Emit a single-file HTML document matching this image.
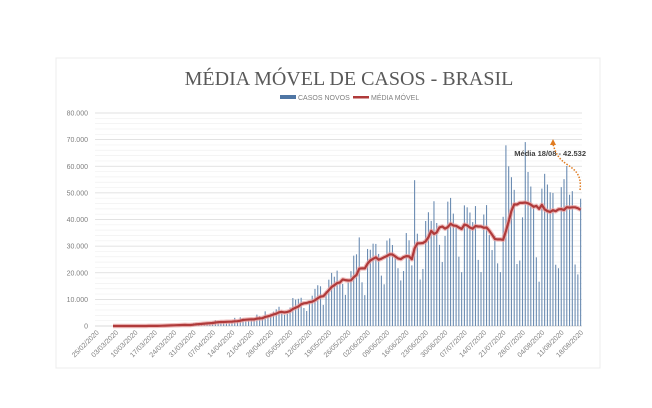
<!DOCTYPE html>
<html><head><meta charset="utf-8"><style>
html,body{margin:0;padding:0;background:#fff;}
svg{display:block;font-family:"Liberation Sans",sans-serif;}
</style></head><body>
<svg id="chart" width="652" height="408" viewBox="0 0 652 408">
<rect x="56" y="58" width="544" height="310" fill="#fff" stroke="#ececec"/>
<text x="349" y="85" text-anchor="middle" font-family="Liberation Serif,serif" font-size="20" fill="#595959">MÉDIA MÓVEL DE CASOS - BRASIL</text>
<g>
<g><rect x="280" y="95" width="16" height="4" fill="#4f76a4"/><text x="298" y="100" font-size="7" fill="#7f7f7f">CASOS NOVOS</text></g>
<g><rect x="353" y="96" width="16" height="2.5" fill="#b03a3a"/><text x="371" y="100" font-size="7" fill="#7f7f7f">MÉDIA MÓVEL</text></g>
</g>
<g id="grid"></g>
<g id="yaxis"></g>
<g id="bars"></g>
<g id="line"></g>
<g id="xaxis"></g>
<g>
<text x="586" y="156" text-anchor="end" font-size="7.5" font-weight="bold" fill="#404040">Média 18/08 - 42.532</text>
<path d="M580,190 C582,175 575,170 568,165 C560,160 556,155 553,144" fill="none" stroke="#e07b20" stroke-width="1.5" stroke-dasharray="1.5,1.5"/>
<path d="M550,145 L553,139 L556,145 Z" fill="#e07b20"/>
</g>
</svg>
<script>
const yTicks=[0,10000,20000,30000,40000,50000,60000,70000,80000];
const yTickLabels=["0","10.000","20.000","30.000","40.000","50.000","60.000","70.000","80.000"];
const xTickLabels=["25/02/2020","03/03/2020","10/03/2020","17/03/2020","24/03/2020","31/03/2020","07/04/2020","14/04/2020","21/04/2020","28/04/2020","05/05/2020","12/05/2020","19/05/2020","26/05/2020","02/06/2020","09/06/2020","16/06/2020","23/06/2020","30/06/2020","07/07/2020","14/07/2020","21/07/2020","28/07/2020","04/08/2020","11/08/2020","18/08/2020"];
const casosNovos=[1,0,0,0,1,0,0,
0,0,1,5,5,6,7,
9,18,25,21,23,79,34,
57,137,193,283,224,418,345,
310,232,482,502,487,352,323,
1138,1119,1074,1146,1222,852,926,
1661,2210,1930,1781,1089,1442,1261,
1832,3058,2105,3257,2917,2055,1927,
2336,2678,4279,3735,3503,5514,3379,
4613,5385,6276,7218,4726,4206,4726,
6935,10503,9888,10222,10611,6760,5632,
9258,11385,13944,15305,14919,7938,13140,
17408,19951,18508,20803,16508,15813,11687,
16324,20599,26417,26928,33274,16409,11598,
28936,28633,30925,30830,27075,18921,15654,
32091,32913,30412,25982,21704,17110,20647,
34918,32188,22765,54771,34666,17459,21432,
39436,42725,39483,46860,38693,30476,24052,
33846,46712,48105,42223,37923,26051,20229,
45305,44571,42619,39023,45048,24831,20286,
41857,45403,34177,28532,33836,23529,20257,
41008,67860,59961,55891,51147,23284,24578,
40816,69074,57837,52383,45392,25800,16641,
51603,57152,53139,50230,49970,23010,21703,
52160,55155,60091,49298,50644,23101,19373,
47784];
const NS='http://www.w3.org/2000/svg';
const x0=95,x1=582,yBase=326,yTop=113,yMax=80000;
const n=casosNovos.length;
const step=(x1-x0)/n;
function xPos(i){return x0+step*(i+0.5);}
function yPos(v){return yBase-(v/yMax)*(yBase-yTop);}
function mk(tag,attrs,parent){const e=document.createElementNS(NS,tag);for(const k in attrs)e.setAttribute(k,attrs[k]);parent.appendChild(e);return e;}
const grid=document.getElementById('grid'),yaxis=document.getElementById('yaxis');
for(let v=0;v<=yMax;v+=2000){
  const gl=mk('line',{x1:x0,x2:x1,y1:yPos(v),y2:yPos(v),stroke:v%10000===0?'#d9d9d9':'#f0f0f0','stroke-width':v===0?1:0.7},grid);
  
  
}
yTicks.forEach((v,i)=>{
  const t=mk('text',{x:88,y:yPos(v)+2.5,'text-anchor':'end','font-size':7,fill:'#7f7f7f'},yaxis);
  t.textContent=yTickLabels[i];
  
  
});
const bars=document.getElementById('bars');
casosNovos.forEach((v,i)=>{
  const r=mk('rect',{x:xPos(i)-0.55,y:yPos(v),width:1.1,height:yBase-yPos(v),fill:'#6b8cb2'},bars);
  
  
});
const media=casosNovos.map((v,i)=>{const s=casosNovos.slice(Math.max(0,i-6),i+1);return s.reduce((a,b)=>a+b,0)/s.length;});
let d='';
media.forEach((v,i)=>{if(i<6)return;d+=(d?'L':'M')+xPos(i).toFixed(1)+','+yPos(v).toFixed(1);});
const line=document.getElementById('line');
const halo=mk('path',{d:d,fill:'none',stroke:'#e8a0a0','stroke-width':4.5,'stroke-linejoin':'round',opacity:0.7},line);


const ln=mk('path',{d:d,fill:'none',stroke:'#b03a3a','stroke-width':2.2,'stroke-linejoin':'round'},line);


const xaxis=document.getElementById('xaxis');
xTickLabels.forEach((lab,k)=>{
  const x=xPos(k*7)+3;
  const t=mk('text',{x:x,y:333,'text-anchor':'end','font-size':7,fill:'#7f7f7f',transform:'rotate(-45 '+x+' 333)'},xaxis);
  t.textContent=lab;
  
  
});
</script>
</body></html>
